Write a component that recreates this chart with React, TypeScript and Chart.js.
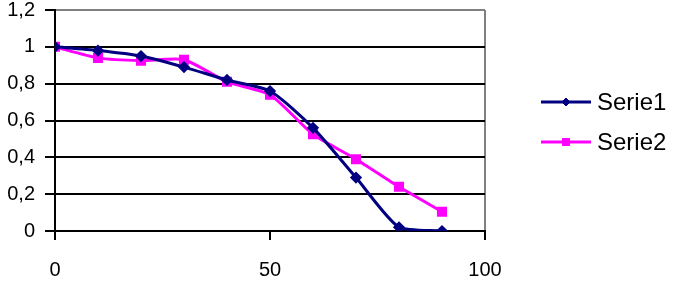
import { useEffect, useRef } from "react";
import { Chart, registerables } from "chart.js";
import { drawPoint } from "chart.js/helpers";

Chart.register(...registerables);

const xValues = [0, 10, 20, 30, 40, 50, 60, 70, 80, 90];
const serie1 = [1, 0.98, 0.95, 0.89, 0.82, 0.76, 0.56, 0.29, 0.02, 0];
const serie2 = [1, 0.94, 0.925, 0.93, 0.81, 0.74, 0.525, 0.39, 0.24, 0.105];
const seriesLabels = ["Serie1", "Serie2"];
const seriesColors = ["#000080", "#FF00FF"];
const xMin = 0;
const xMax = 100;
const xStep = 50;
const yMin = 0;
const yMax = 1.2;
const yStep = 0.2;

const FONT = '"Liberation Sans", Arial, Helvetica, sans-serif';

const sideLegend = {
  id: "sideLegend",
  afterDraw(chart: any) {
    const { ctx, chartArea } = chart;
    const datasets = chart.data.datasets;
    const n = datasets.length;
    const spacing = 40;
    const cy = (chartArea.top + chartArea.bottom) / 2 + 1.5;
    const x0 = chartArea.right + 56;
    datasets.forEach((ds: any, i: number) => {
      const y = cy + (i - (n - 1) / 2) * spacing;
      ctx.save();
      ctx.strokeStyle = ds.borderColor;
      ctx.lineWidth = 3;
      ctx.beginPath();
      ctx.moveTo(x0, y);
      ctx.lineTo(x0 + 50, y);
      ctx.stroke();
      ctx.fillStyle = ds.pointBackgroundColor;
      ctx.strokeStyle = ds.pointBorderColor;
      ctx.lineWidth = 1;
      drawPoint(ctx, { pointStyle: ds.pointStyle, radius: ds.pointRadius, rotation: 0, borderWidth: 1 }, x0 + 25, y);
      ctx.fillStyle = "#000";
      ctx.font = `24px ${FONT}`;
      ctx.textAlign = "left";
      ctx.textBaseline = "middle";
      ctx.fillText(ds.label, x0 + 56, y + 1);
      ctx.restore();
    });
  },
};

function fmt(v: number) {
  return String(Number(v.toFixed(1))).replace(".", ",");
}

export default function App() {
  const ref = useRef<HTMLCanvasElement | null>(null);

  useEffect(() => {
    document.body.style.margin = "0";
    const canvas = ref.current;
    if (!canvas) return;
    const mk = (vals: number[]) => xValues.map((x, i) => ({ x, y: vals[i] }));
    const chart = new Chart(canvas, {
      type: "line",
      data: {
        datasets: [
          {
            label: seriesLabels[0],
            data: mk(serie1),
            borderColor: seriesColors[0],
            backgroundColor: seriesColors[0],
            pointBackgroundColor: seriesColors[0],
            pointBorderColor: seriesColors[0],
            borderWidth: 3,
            pointStyle: "rectRot",
            pointRadius: 4,
            tension: 0.22,
            fill: false,
          },
          {
            label: seriesLabels[1],
            data: mk(serie2),
            borderColor: seriesColors[1],
            backgroundColor: seriesColors[1],
            pointBackgroundColor: seriesColors[1],
            pointBorderColor: seriesColors[1],
            borderWidth: 3,
            pointStyle: "rect",
            pointRadius: 5,
            tension: 0.22,
            fill: false,
          },
        ],
      },
      options: {
        animation: false,
        responsive: false,
        devicePixelRatio: 1,
        layout: { padding: { top: 10, left: 0, right: 201, bottom: 0 } },
        plugins: {
          legend: { display: false },
          tooltip: { enabled: false },
        },
        scales: {
          x: {
            type: "linear",
            min: xMin,
            max: xMax,
            ticks: {
              stepSize: xStep,
              color: "#000",
              font: { family: FONT, size: 20, lineHeight: 1 },
              padding: 20,
            },
            grid: {
              color: (c: any) => (c.tick && c.tick.value === xMax ? "#808080" : "rgba(0,0,0,0)"),
              tickColor: "#000",
              lineWidth: 2,
              tickLength: 9,
            },
            border: { color: "#000", width: 2 },
            afterFit: (s: any) => {
              s.height = 52;
              s.paddingLeft = 0;
              s.paddingRight = 0;
            },
          },
          y: {
            min: yMin,
            max: yMax,
            ticks: {
              stepSize: yStep,
              color: "#000",
              font: { family: FONT, size: 20, lineHeight: 1 },
              padding: 10,
              callback: (v: any) => fmt(Number(v)),
            },
            grid: {
              color: (c: any) => (c.tick && c.tick.value > yMax - 0.05 ? "#808080" : "#000"),
              tickColor: "#000",
              lineWidth: 2,
              tickLength: 10,
            },
            border: { color: "#000", width: 2 },
            afterFit: (s: any) => {
              s.width = 55;
              s.paddingTop = 0;
              s.paddingBottom = 0;
            },
          },
        },
      },
      plugins: [sideLegend],
    });
    return () => chart.destroy();
  }, []);

  return (
    <div style={{ position: "absolute", left: 0, top: 0, width: 686, height: 283, background: "#fff" }}>
      <canvas ref={ref} width={686} height={283} />
    </div>
  );
}
